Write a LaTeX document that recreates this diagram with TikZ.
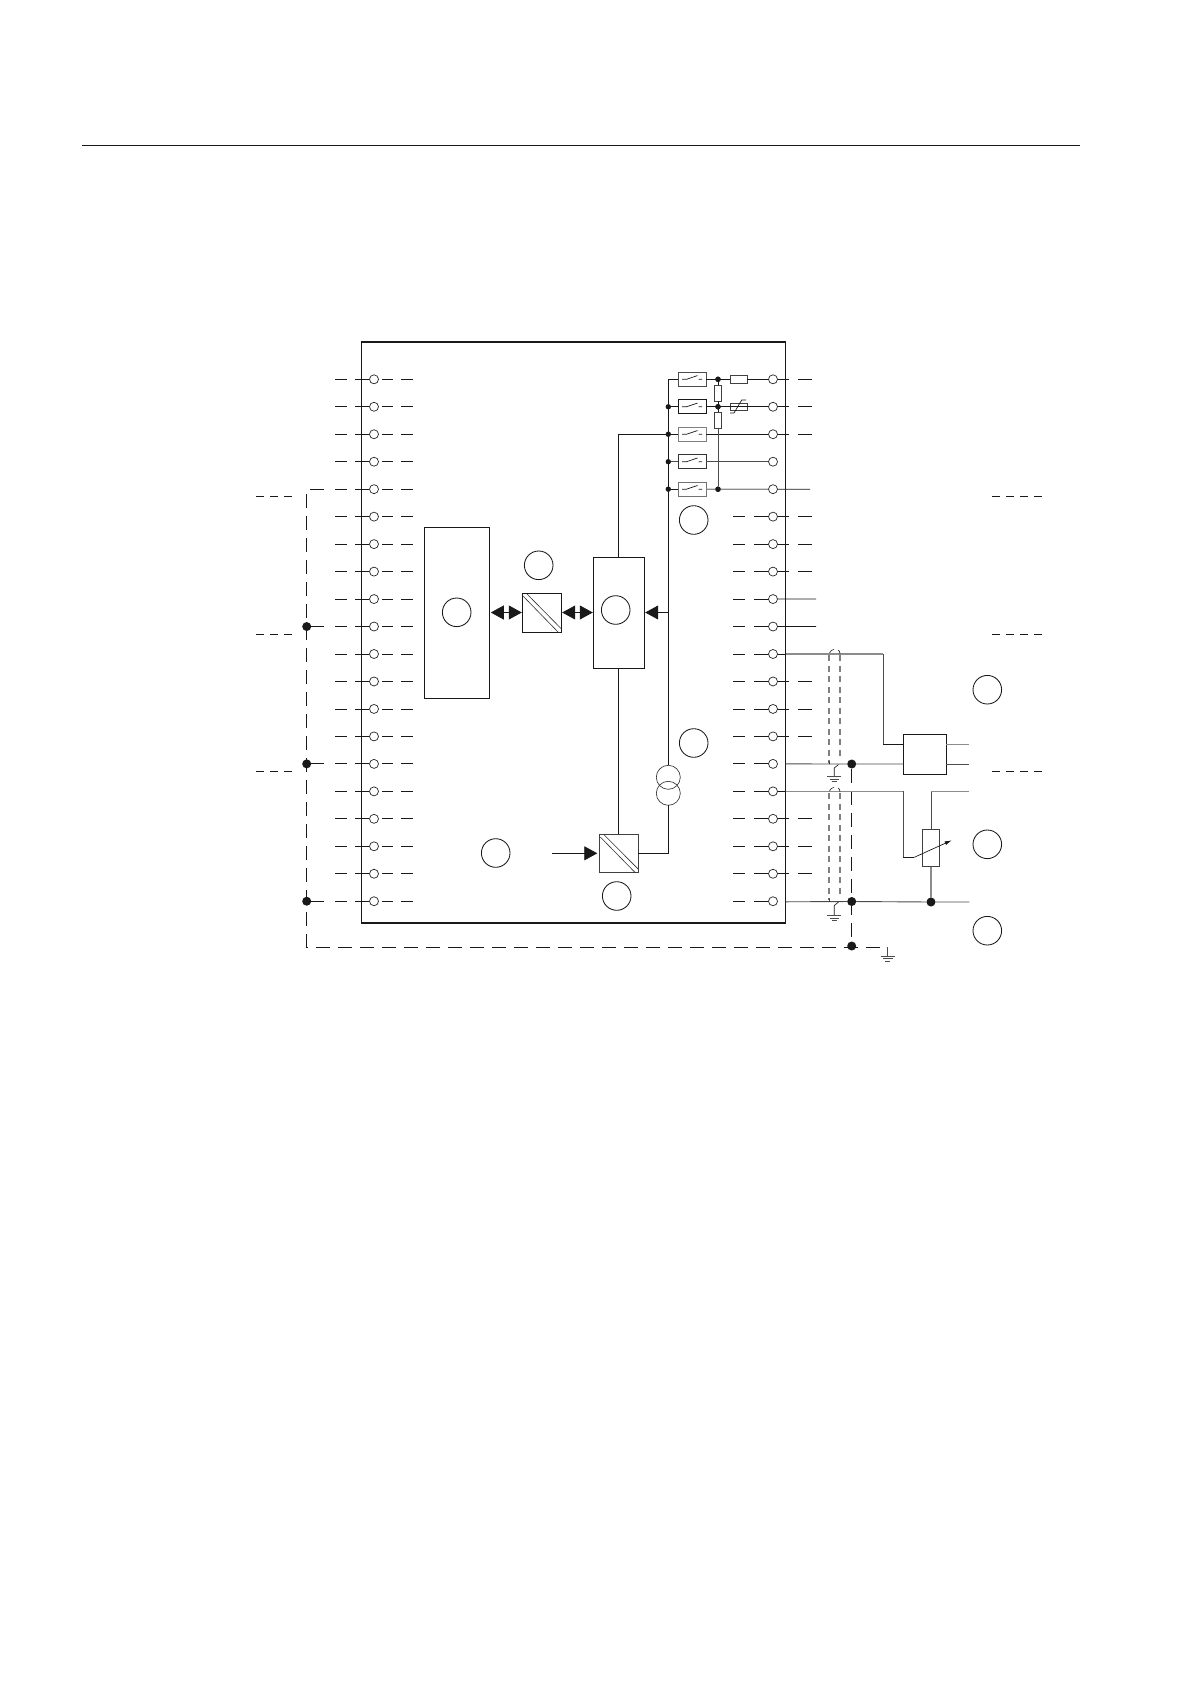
\documentclass[tikz,border=0pt]{standalone}
\usetikzlibrary{arrows.meta,calc}
\tikzset{
 term/.style={circle,draw=black!85,line width=.7pt,fill=white,minimum size=9pt,inner sep=0pt,outer sep=0pt},
 tag/.style={circle,draw=black!90,line width=.85pt,minimum size=28.6pt,inner sep=0pt,outer sep=0pt},
 joint/.style={circle,fill=black!90,draw=none,minimum size=5.4pt,inner sep=0pt,outer sep=0pt},
 bigjoint/.style={circle,fill=black!90,draw=none,minimum size=9pt,inner sep=0pt,outer sep=0pt},
 bx/.style={rectangle,draw=black!90,line width=.85pt,fill=white,inner sep=0pt,outer sep=0pt,anchor=north west},
 relay/.style={rectangle,draw=black!70,line width=.8pt,fill=white,inner sep=0pt,outer sep=0pt,minimum width=28pt,minimum height=14pt},
 res/.style={rectangle,draw=black!75,line width=.65pt,fill=white,inner sep=0pt,outer sep=0pt},
 coil/.style={circle,draw=black!80,line width=.65pt,minimum size=24pt,inner sep=0pt,outer sep=0pt},
 wire/.style={draw=black!90,line width=.8pt},
 thin wire/.style={draw=black!70,line width=.8pt},
 gwire/.style={draw=black!45,line width=1.1pt},
 dsh/.style={draw=black!90,line width=.8pt,dash pattern=on 14pt off 8pt},
 gdsh/.style={draw=black!50,line width=1.2pt,dash pattern=on 6pt off 4.5pt},
 legend/.style={draw=black!90,line width=.75pt,dash pattern=on 8pt off 6pt},
 bigtip/.style={{Triangle[length=13pt,width=14pt]}-{Triangle[length=13pt,width=14pt]}},
 onetip/.style={-{Triangle[length=13pt,width=14pt]}},
}
\newcommand{\earthsym}[2]{%
  \draw[thin wire,line width=.75pt] (#1-7,#2) -- (#1+7,#2) (#1-4.8,#2+2.6) -- (#1+4.8,#2+2.6) (#1-2.6,#2+5) -- (#1+2.6,#2+5);}
\newcommand{\swsym}[1]{%
  \draw[wire,line width=.7pt] (682,#1) -- (686.5,#1) -- (697.5,#1-3.7) (698.5,#1) -- (702,#1);}
\begin{document}
\begin{tikzpicture}[x=1pt,y=-1pt]
\useasboundingbox (0,0) rectangle (1190,1684);
\fill[white] (0,0) rectangle (1190,1684);
\coordinate (ruleL) at (82,145.5);
\coordinate (ruleR) at (1080,145.5);
\draw[black!90,line width=1pt] (ruleL) -- (ruleR);
% enclosure
\node[bx,minimum width=424pt,minimum height=581.5pt,line width=.9pt] (outer) at (361.7,341.7) {};
\draw[black!90,line width=1.6pt] (outer.north west) -- (outer.north east) (outer.south west) -- (outer.south east);
% terminal stubs
\foreach \i in {1,...,20}{
  \pgfmathsetmacro{\yy}{379.3+(\i-1)*27.47}
  \coordinate (Lc\i) at (374,\yy);
  \coordinate (Rc\i) at (773,\yy);
  \draw[wire] (335,\yy) -- (347,\yy) (355,\yy) -- (369,\yy) (382,\yy) -- (393,\yy) (401,\yy) -- (413,\yy);
}
\foreach \i in {6,...,20}{
  \pgfmathsetmacro{\yy}{379.3+(\i-1)*27.47}
  \draw[wire] (733,\yy) -- (745,\yy) (754,\yy) -- (769,\yy);
}
\foreach \i in {1,2,3,6,7,8,11,12,13,14,16,17,18,19}{
  \pgfmathsetmacro{\yy}{379.3+(\i-1)*27.47}
  \draw[wire] (777,\yy) -- (789,\yy) (798,\yy) -- (812,\yy);
}
% coupled blocks
\node[bx,minimum width=65pt,minimum height=171pt] (big) at (424.3,527.3) {};
\node[bx,minimum width=39.4pt,minimum height=39.4pt] (convA) at (522.3,593.3) {};
\node[bx,minimum width=51.4pt,minimum height=111pt] (ctrl) at (593.3,557.3) {};
\node[bx,minimum width=39pt,minimum height=38.7pt,draw=black!75] (convB) at (599.3,834) {};
\draw[black!80,line width=.6pt]
  ($(convA.north west)+(1,3)$) -- ($(convA.south east)+(-3,0)$)
  ($(convA.north west)+(4.5,.5)$) -- ($(convA.south east)+(0,-3.5)$)
  ($(convB.north west)+(1,3)$) -- ($(convB.south east)+(-3,0)$)
  ($(convB.north west)+(4.5,.5)$) -- ($(convB.south east)+(0,-3.5)$);
\coordinate (axis) at (0,612.5);
\draw[wire,bigtip,shorten <=1.5pt,shorten >=.5pt] (big.east |- axis) -- (convA.west |- axis);
\draw[wire,bigtip,shorten <=.5pt,shorten >=.5pt] (convA.east |- axis) -- (ctrl.west |- axis);
\coordinate (feed) at (668.3,612.5);
\draw[wire,onetip,shorten >=.5pt] (feed) -- (ctrl.east |- feed);
\coordinate (input) at (552,853.3);
\draw[wire,onetip,shorten >=2pt] (input) -- (convB.west |- input);
% relay contacts
\node[relay] (S1) at (692.3,379.3) {};
\node[relay,draw=black!90] (S2) at (692.3,406.77) {};
\node[relay,draw=black!50] (S3) at (692.3,434.24) {};
\node[relay,draw=black!80] (S4) at (692.3,461.71) {};
\node[relay,draw=black!55] (S5) at (692.3,489.18) {};
\swsym{379.3}\swsym{406.77}\swsym{434.24}\swsym{461.71}\swsym{489.18}
\coordinate (busTop) at (668.3,379.3);
\node[coil] (coilA) at (668.3,777.3) {};
\node[coil,fill=none] (coilB) at (668.3,793.3) {};
\draw[wire] (S1.west) -- (busTop) -- (coilA.north);
\draw[wire] (coilB.south) |- (convB.east |- input);
\coordinate (ctrlTop) at (618.7,557.3);
\coordinate (ctrlBot) at (618.7,668.3);
\draw[wire] (ctrlTop) |- (S3.west);
\draw[wire] (ctrlBot) -- (ctrlBot |- convB.north);
\draw[wire] (S2.west) -- (busTop |- S2);
\draw[thin wire] (S4.west) -- (busTop |- S4);
\draw[wire] (S5.west) -- (busTop |- S5);
\node[joint] (b2) at (668.3,406.77) {};
\node[joint] (b3) at (668.3,434.24) {};
\node[joint] (b4) at (668.3,461.71) {};
\node[joint] (b5) at (668.3,489.18) {};
% output network
\node[res,minimum width=16.5pt,minimum height=7.5pt] (Rh) at (738.7,379.3) {};
\node[res,minimum width=16.5pt,minimum height=7.5pt] (Vh) at (738.7,406.77) {};
\node[res,minimum width=7.4pt,minimum height=16pt] (Ra) at (718,393.3) {};
\node[res,minimum width=7.4pt,minimum height=16pt] (Rb) at (718,420.3) {};
\node[joint] (e1) at (718,379.3) {};
\node[joint] (e2) at (718,406.77) {};
\node[joint] (e5) at (718,489.18) {};
\draw[wire] (S1.east) -- (Rh.west) (Rh.east) -- (Rc1);
\draw[wire] (S2.east) -- (Rc2);
\draw[wire] (S3.east) -- (Rc3);
\draw[thin wire] (S4.east) -- (Rc4);
\draw[gwire,line width=1.2pt] (S5.east) -- (Rc5);
\draw[wire] (e1) -- (Ra.north) (Ra.south) -- (Rb.north);
\draw[thin wire,line width=.9pt] (Rb.south) -- (e5);
\draw[wire,line width=.7pt] (730,413) -- (734,413) -- (741.7,400) -- (746,400);
\node[joint] at (e1) {};
\node[joint] at (e2) {};
\node[joint] at (e5) {};
% terminals
\foreach \i in {1,...,20}{
  \node[term] (L\i) at (Lc\i) {};
  \node[term] (R\i) at (Rc\i) {};
}
% solid exits
\coordinate (x5) at (810,489.18);
\coordinate (x9) at (816,599.06);
\coordinate (x10) at (816,626.53);
\draw[wire] (R5.east) -- (x5);
\draw[wire] (R9.east) -- (x9);
\draw[wire] (R10.east) -- (x10);
% left earth bus
\draw[dsh] (324,489.18) -- (306.7,489.18) -- (306.7,947) -- (883,947);
\node[bigjoint] (j10) at (306.7,626.53) {};
\node[bigjoint] (j15) at (306.7,763.88) {};
\node[bigjoint] (j20) at (306.7,901.23) {};
\draw[wire] (j10.east) -- +(13,0) (j15.east) -- +(13,0) (j20.east) -- +(13,0);
\draw[legend] (256,496) -- (294,496) (256,634.3) -- (294,634.3) (256,771.3) -- (294,771.3);
\draw[legend] (992,496) -- (1044,496) (992,634.3) -- (1044,634.3) (992,771.3) -- (1044,771.3);
% external wiring
\node[bx,minimum width=43pt,minimum height=40pt] (amp) at (903.3,734.3) {};
\node[res,anchor=north west,minimum width=17.4pt,minimum height=37.4pt,fill=white] (pot) at (922.3,829.3) {};
\node[bigjoint] (s15) at (851.7,764) {};
\node[bigjoint] (s20) at (851.7,901.5) {};
\node[bigjoint] (gnd) at (851.7,946) {};
\node[bigjoint] (p20) at (931,902) {};
\draw[dsh] (s15) -- (gnd);
\coordinate (k1) at (883.3,654);
\coordinate (k2) at (883.3,744.3);
\coordinate (k3) at (903.3,791.4);
\coordinate (k4) at (903.3,857.3);
\coordinate (k5) at (914.3,857.3);
\coordinate (k6) at (931,791.7);
\draw[gwire] (785.7,654) -- (k1);
\draw[thin wire] (k1) -- (k2);
\draw[wire] (k2) -- (amp.west |- k2);
\draw[thin wire,line width=.9pt] (785.7,763.9) -- (s15) -- (amp.west |- s15);
\draw[gwire] (amp.east |- k2) -- (969.3,744.3);
\draw[thin wire,line width=.85pt] (amp.east |- s15) -- (969.3,764);
\draw[gwire] (785.7,791.4) -- (k3);
\draw[thin wire] (k3) -- (k4);
\draw[wire] (k4) -- (k5);
\draw[wire,line width=.7pt,-{Latex[length=7pt,width=4pt]}] (k5) -- (951.7,840.3);
\draw[thin wire] (pot.north) -- (k6);
\draw[gwire] (k6) -- (969.3,791.7);
\draw[gwire,line width=1.2pt] (pot.south) -- (p20);
\draw[thin wire,line width=.9pt] (785.7,901.8) -- (s20) -- (p20) -- (969.3,902);
% screens
\draw[gdsh] (829,655) -- (829,763);
\draw[gdsh] (840,655) -- (840,760);
\draw[gdsh] (829,793) -- (829,900);
\draw[gdsh] (840,793) -- (840,897);
\draw[wire,line width=.6pt] (829.5,653) .. controls (831,650) and (833,649.5) .. (834,649.5)
  (838,650) .. controls (839.5,650.5) and (840,652) .. (840,654);
\draw[wire,line width=.6pt] (829.5,791) .. controls (831,788) and (833,787.5) .. (834,787.5)
  (838,788) .. controls (839.5,788.5) and (840,790) .. (840,792);
\draw[wire,line width=.65pt] (829,761) -- (829.5,764) (838.5,764.5) -- (834.3,768) -- (834.3,776.7);
\draw[wire,line width=.65pt] (829,898) -- (829.5,901.5) (838.5,902) -- (834.3,905.5) -- (834.3,915.5);
\earthsym{834.3}{776.7}
\earthsym{834.3}{915.5}
\draw[thin wire] (887.7,947) -- (887.7,956);
\earthsym{887.7}{956}
% reference circles
\node[tag] (n1) at (456.7,612.3) {};
\node[tag] (n2) at (538.7,565.3) {};
\node[tag] (n3) at (615.7,610) {};
\node[tag] (n4) at (693.7,520) {};
\node[tag] (n5) at (693.7,743) {};
\node[tag] (n6) at (495.7,853) {};
\node[tag] (n7) at (616.7,896) {};
\node[tag] (n8) at (987.3,689.7) {};
\node[tag] (n9) at (987.3,844.3) {};
\node[tag] (n10) at (987.3,930.7) {};
\end{tikzpicture}
\end{document}
